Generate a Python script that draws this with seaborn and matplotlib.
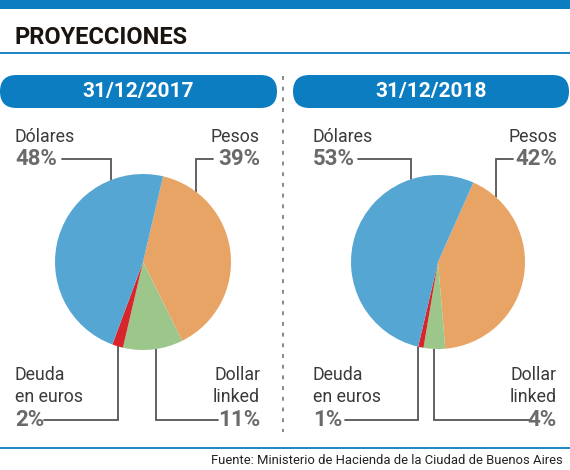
import numpy as np
import matplotlib
matplotlib.use("Agg")
import matplotlib.pyplot as plt
import seaborn as sns
from matplotlib.patches import FancyBboxPatch, Rectangle

sns.set_theme(style="white")
plt.rcParams['font.family'] = ['Liberation Sans Narrow', 'Roboto', 'DejaVu Sans']

# ---- data ----
title = "PROYECCIONES"
dates = ["31/12/2017", "31/12/2018"]
categories = ["Pesos", "Dollar linked", "Deuda en euros", "Dólares"]
values_2017 = [39, 11, 2, 48]
values_2018 = [42, 4, 1, 53]
source = "Fuente: Ministerio de Hacienda de la Ciudad de Buenos Aires"

colors = {"Pesos": "#E8A465", "Dollar linked": "#9DC78A",
          "Deuda en euros": "#D7262B", "Dólares": "#56A6D4"}
BLUE = "#0B7DC0"
NAME_C = "#3a3a3a"
PCT_C = "#6a6a6a"
LINE_C = "#555555"

W, H = 570, 470
fig = plt.figure(figsize=(W / 100, H / 100), dpi=100)
bg = fig.add_axes([0, 0, 1, 1])
bg.set_xlim(0, W)
bg.set_ylim(H, 0)
bg.axis("off")

# header bar, title, rules
bg.add_patch(Rectangle((0, 0), W, 8.5, color=BLUE, lw=0))
bg.text(15, 37, title, fontsize=17, fontweight="bold", color="#1a1410",
        va="center", ha="left")
bg.plot([0, W], [52.5, 52.5], color=BLUE, lw=1.3)
bg.plot([0, W], [448, 448], color=BLUE, lw=1.3)
bg.text(563, 461, source, fontsize=9.4, color="#222222", ha="right", va="center")

# divider
bg.plot([283, 283], [76, 432], color="#888888", lw=1.4, ls=(0, (2, 3.5)))

panels = [
    dict(vals=values_2017, date=dates[0], cx=143, cy=262, r=88,
         pill=(0, 277), xl=15, xr=260, start=76.8,
         lead=dict(dol=(62, 111), pes=(213, 196), deu=(44, 118), dl=(218, 156))),
    dict(vals=values_2018, date=dates[1], cx=438, cy=262, r=87,
         pill=(293, 569), xl=313, xr=557, start=66.0,
         lead=dict(dol=(358, 411), pes=(513, 496), deu=(345, 418), dl=(531, 434))),
]

for p in panels:
    # pill header
    x0, x1 = p["pill"]
    bg.add_patch(FancyBboxPatch((x0, 75), x1 - x0, 33,
                                boxstyle="round,pad=0,rounding_size=16.5",
                                fc=BLUE, ec="none"))
    bg.text((x0 + x1) / 2, 92, p["date"], color="white", fontsize=15,
            fontweight="bold", ha="center", va="center")

    # pie
    cx, cy, r = p["cx"], p["cy"], p["r"]
    ax = fig.add_axes([(cx - r) / W, (H - cy - r) / H, 2 * r / W, 2 * r / H])
    ax.pie(p["vals"], colors=[colors[c] for c in categories],
           startangle=p["start"], counterclock=False, radius=1,
           wedgeprops=dict(linewidth=0))
    ax.set_xlim(-1, 1)
    ax.set_ylim(-1, 1)
    ax.set_aspect("equal")
    ax.axis("off")

    v = dict(zip(categories, p["vals"]))

    def edge_y(x, top):
        d = np.sqrt(max(r ** 2 - (x - cx) ** 2, 0))
        return cy - d if top else cy + d

    # top labels
    bg.text(p["xl"], 137, "Dólares", fontsize=12.8, color=NAME_C, ha="left", va="center")
    bg.text(p["xl"], 159, f"{v['Dólares']}%", fontsize=16, fontweight="bold",
            color=PCT_C, ha="left", va="center")
    bg.text(p["xr"], 137, "Pesos", fontsize=12.8, color=NAME_C, ha="right", va="center")
    bg.text(p["xr"], 159, f"{v['Pesos']}%", fontsize=16, fontweight="bold",
            color=PCT_C, ha="right", va="center")
    # bottom labels
    bg.text(p["xl"], 375, "Deuda", fontsize=12.8, color=NAME_C, ha="left", va="center")
    bg.text(p["xl"], 397, "en euros", fontsize=12.8, color=NAME_C, ha="left", va="center")
    bg.text(p["xl"], 420, f"{v['Deuda en euros']}%", fontsize=16, fontweight="bold",
            color=PCT_C, ha="left", va="center")
    bg.text(p["xr"], 375, "Dollar", fontsize=12.8, color=NAME_C, ha="right", va="center")
    bg.text(p["xr"], 397, "linked", fontsize=12.8, color=NAME_C, ha="right", va="center")
    bg.text(p["xr"], 420, f"{v['Dollar linked']}%", fontsize=16, fontweight="bold",
            color=PCT_C, ha="right", va="center")

    # leader lines
    L = p["lead"]
    for key, yl, top in [("dol", 159, True), ("pes", 159, True),
                         ("deu", 420, False), ("dl", 420, False)]:
        xa, xb = L[key]
        ye = edge_y(xb, top)
        bg.plot([xa, xb, xb], [yl, yl, ye], color=LINE_C, lw=1.3,
                solid_joinstyle="miter")

fig.savefig("out.png", dpi=100)
